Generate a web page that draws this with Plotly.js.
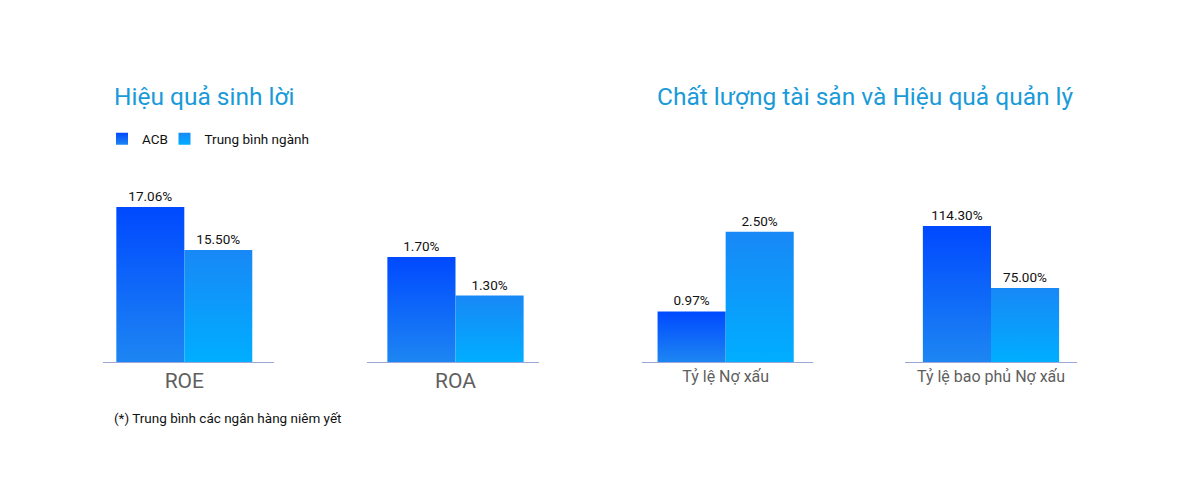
<!DOCTYPE html>
<html>
<head>
<meta charset="utf-8">
<script src="https://cdn.plot.ly/plotly-3.0.1.min.js"></script>
<style>
  html, body { margin: 0; padding: 0; background: #ffffff; }
  #chart { width: 1200px; height: 478px; }
</style>
</head>
<body>
<div id="chart"></div>
<svg width="0" height="0" style="position:absolute">
  <defs id="bar-grads"></defs>
</svg>
<script>
(function () {
  'use strict';

  // --- data ---
  var categories = ['ROE', 'ROA', 'Tỷ lệ Nợ xấu', 'Tỷ lệ bao phủ Nợ xấu'];
  var acbValues = [17.06, 1.70, 0.97, 114.30];
  var industryValues = [15.50, 1.30, 2.50, 75.00];
  var seriesNames = ['ACB', 'Trung bình ngành'];
  var sectionTitles = ['Hiệu quả sinh lời', 'Chất lượng tài sản và Hiệu quả quản lý'];
  var footnote = '(*) Trung bình các ngân hàng niêm yết';

  // --- look ---
  var W = 1200, H = 478;
  var fontFamily = 'Roboto, "Noto Sans", sans-serif';
  var titleColor = '#1a9ad8';
  var acbColor = '#0a62f8';
  var avgColor = '#0c9cfa';
  var lineColor = '#9ca7d6';

  // gradient stops (top, bottom) per series
  var gradStops = {};
  gradStops[seriesNames[0]] = ['#0049ff', '#1d86f2'];
  gradStops[seriesNames[1]] = ['#1888f6', '#00aeff'];

  // each mini chart gets its own axis pair
  var xDomainsPx = [[102.5, 273.5], [367.3, 538.7], [642, 813.3], [905.3, 1076.7]];
  var xShift = [0.0216, -0.0146, 0.0117, 0];
  var yRanges = [[11.44, 18.04], [0.611, 2.497], [0, 3.49], [28.1, 143.4]];
  var tickSizes = [21, 21, 16, 16];
  var plotTopPx = 180, plotBottomPx = 362;

  function px(x) { return x / W; }
  function py(y) { return (H - y) / H; }
  function pct(v) { return v.toFixed(2) + '%'; }

  var data = [];
  var layout = {
    width: W,
    height: H,
    margin: { t: 0, r: 0, b: 0, l: 0 },
    paper_bgcolor: '#ffffff',
    plot_bgcolor: 'rgba(0,0,0,0)',
    font: { family: fontFamily, size: 14, color: '#111111' },
    barmode: 'group',
    bargap: 0.205,
    bargroupgap: 0,
    legend: {
      orientation: 'h', x: px(102), y: py(139), xanchor: 'left', yanchor: 'middle',
      font: { family: fontFamily, size: 13.5, color: '#111111' },
      bgcolor: 'rgba(0,0,0,0)'
    },
    legend2: {
      orientation: 'h', x: px(164.5), y: py(139), xanchor: 'left', yanchor: 'middle',
      font: { family: fontFamily, size: 13.5, color: '#111111' },
      bgcolor: 'rgba(0,0,0,0)'
    },
    annotations: [],
    showlegend: true
  };

  categories.forEach(function (cat, i) {
    var n = i === 0 ? '' : String(i + 1);
    var xa = 'x' + n, ya = 'y' + n;

    data.push({
      type: 'bar', name: seriesNames[0], x: [cat], y: [acbValues[i]],
      xaxis: xa, yaxis: ya, legendgroup: 'acb', legend: 'legend', showlegend: i === 0,
      marker: { color: acbColor },
      text: [pct(acbValues[i])], textposition: 'outside',
      textfont: { family: fontFamily, size: 13.5, color: '#111111' },
      hovertemplate: '%{x}<br>ACB: %{y:.2f}%<extra></extra>'
    });
    data.push({
      type: 'bar', name: seriesNames[1], x: [cat], y: [industryValues[i]],
      xaxis: xa, yaxis: ya, legendgroup: 'avg', legend: 'legend2', showlegend: i === 0,
      marker: { color: avgColor },
      text: [pct(industryValues[i])], textposition: 'outside',
      textfont: { family: fontFamily, size: 13.5, color: '#111111' },
      hovertemplate: '%{x}<br>Trung bình ngành: %{y:.2f}%<extra></extra>'
    });

    layout['xaxis' + n] = {
      domain: [px(xDomainsPx[i][0]), px(xDomainsPx[i][1])],
      anchor: ya,
      type: 'category',
      range: [-0.5 + xShift[i], 0.5 + xShift[i]],
      showgrid: false, zeroline: false,
      showline: true, linecolor: lineColor, linewidth: 1.2,
      ticks: '', ticklen: 0,
      tickfont: { family: fontFamily, size: tickSizes[i], color: '#5f5f5f' },
      fixedrange: true
    };
    layout['yaxis' + n] = {
      domain: [py(plotBottomPx), py(plotTopPx)],
      anchor: xa,
      range: yRanges[i],
      visible: false,
      fixedrange: true
    };
  });

  layout.annotations.push(
    {
      text: sectionTitles[0], xref: 'paper', yref: 'paper', x: px(112), y: py(97),
      xanchor: 'left', yanchor: 'middle', showarrow: false,
      font: { family: fontFamily, size: 24.5, color: titleColor }
    },
    {
      text: sectionTitles[1], xref: 'paper', yref: 'paper', x: px(655), y: py(97),
      xanchor: 'left', yanchor: 'middle', showarrow: false,
      font: { family: fontFamily, size: 24.5, color: titleColor }
    },
    {
      text: footnote, xref: 'paper', yref: 'paper', x: px(112), y: py(418),
      xanchor: 'left', yanchor: 'middle', showarrow: false,
      font: { family: fontFamily, size: 13.5, color: '#111111' }
    }
  );

  var config = { displayModeBar: false, responsive: false };

  var SVGNS = 'http://www.w3.org/2000/svg';
  var defs = document.getElementById('bar-grads');
  var gradCount = 0;

  function makeGrad(stops, units, y1, y2) {
    var id = 'bar-grad-' + (gradCount++);
    var lg = document.createElementNS(SVGNS, 'linearGradient');
    lg.setAttribute('id', id);
    lg.setAttribute('gradientUnits', units);
    lg.setAttribute('x1', 0);
    lg.setAttribute('x2', 0);
    lg.setAttribute('y1', y1);
    lg.setAttribute('y2', y2);
    [[0, stops[0]], [1, stops[1]]].forEach(function (s) {
      var st = document.createElementNS(SVGNS, 'stop');
      st.setAttribute('offset', s[0]);
      st.setAttribute('stop-color', s[1]);
      lg.appendChild(st);
    });
    defs.appendChild(lg);
    return 'url(#' + id + ')';
  }

  // swap the flat fills for the vertical gradients of the original:
  // each bar runs dark -> light from its top down to the visible baseline
  function applyGradients(gd) {
    var plotH = plotBottomPx - plotTopPx;
    gd.querySelectorAll('.barlayer .trace').forEach(function (g) {
      var cd = g.__data__;
      var tr = cd && cd[0] && cd[0].trace;
      if (!tr || !gradStops[tr.name]) return;
      g.querySelectorAll('path').forEach(function (p) {
        var bb = p.getBBox();
        p.style.fill = makeGrad(gradStops[tr.name], 'userSpaceOnUse', bb.y, plotH);
      });
    });
    gd.querySelectorAll('.legendpoints path').forEach(function (p) {
      var g = p.closest('.traces');
      var d = g && g.__data__;
      var tr = d && d[0] && d[0].trace;
      if (tr && gradStops[tr.name]) {
        p.style.fill = makeGrad(gradStops[tr.name], 'objectBoundingBox', 0, 1);
      }
    });
  }

  var el = document.getElementById('chart');
  Plotly.newPlot(el, data, layout, config).then(applyGradients);
})();
</script>
</body>
</html>
